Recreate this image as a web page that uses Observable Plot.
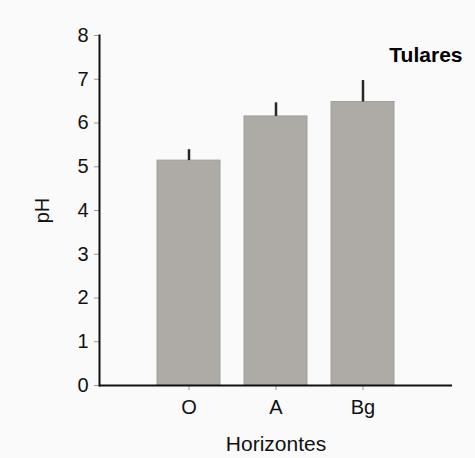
<!DOCTYPE html>
<html>
<head>
<meta charset="utf-8">
<script src="https://cdn.jsdelivr.net/npm/d3@7"></script>
<script src="https://cdn.jsdelivr.net/npm/@observablehq/plot@0.6"></script>
<style>
  html, body { margin: 0; padding: 0; background: #fafafa; }
  #chart svg { display: block; background: #fafafa; }
  #chart svg g[aria-label="y-axis tick label"] text,
  #chart svg g[aria-label="x-axis tick label"] text { font-size: 20px; }
</style>
</head>
<body>
<div id="chart"></div>
<script>
const horizons = ["O", "A", "Bg"];
const phMeans = [5.14, 6.15, 6.48];
const phErrors = [0.25, 0.31, 0.49];
const yTicks = [0, 1, 2, 3, 4, 5, 6, 7, 8];
const titleText = "Tulares";
const xLabel = "Horizontes";
const yLabel = "pH";

const data = horizons.map((h, i) => ({ horizon: h, mean: phMeans[i], err: phErrors[i] }));
const font = "'Liberation Sans', Arial, Helvetica, sans-serif";

const chart = Plot.plot({
  width: 475,
  height: 458,
  marginLeft: 99,
  marginRight: 23,
  marginTop: 35,
  marginBottom: 73,
  style: { fontFamily: font, fontSize: "20px", background: "#fafafa", color: "#111" },
  x: { domain: horizons, paddingInner: 0.28, paddingOuter: 0.655, label: null },
  y: { domain: [0, 8], label: null },
  marks: [
    Plot.barY(data, { x: "horizon", y: "mean", fill: "#aeaaa6", stroke: "#a29e9a", strokeWidth: 1 }),
    Plot.ruleX(data, { x: "horizon", y1: "mean", y2: d => d.mean + d.err, stroke: "#2a2626", strokeWidth: 2.5 }),
    Plot.axisY({ ticks: yTicks, tickSize: 5, tickPadding: 6, fontSize: 20, stroke: "#999", fill: "#111", label: null }),
    Plot.axisX({ tickSize: 5, tickPadding: 9, fontSize: 20, stroke: "#999", fill: "#111", label: null }),
    Plot.frame({ anchor: "left", stroke: "#111", strokeWidth: 2 }),
    Plot.ruleY([0], { stroke: "#111", strokeWidth: 2 }),
    Plot.text([titleText], { text: d => d, frameAnchor: "top-right", textAnchor: "end", lineAnchor: "top", dx: 10, dy: 12, fontSize: 21, fontWeight: "bold", fill: "#000" }),
    Plot.text([xLabel], { text: d => d, frameAnchor: "bottom", textAnchor: "middle", lineAnchor: "top", dy: 51, fontSize: 21, fill: "#111" }),
    Plot.text([yLabel], { text: d => d, frameAnchor: "left", rotate: -90, textAnchor: "middle", lineAnchor: "middle", dx: -57, fontSize: 20, fill: "#111" })
  ]
});
document.getElementById("chart").appendChild(chart);
</script>
</body>
</html>
